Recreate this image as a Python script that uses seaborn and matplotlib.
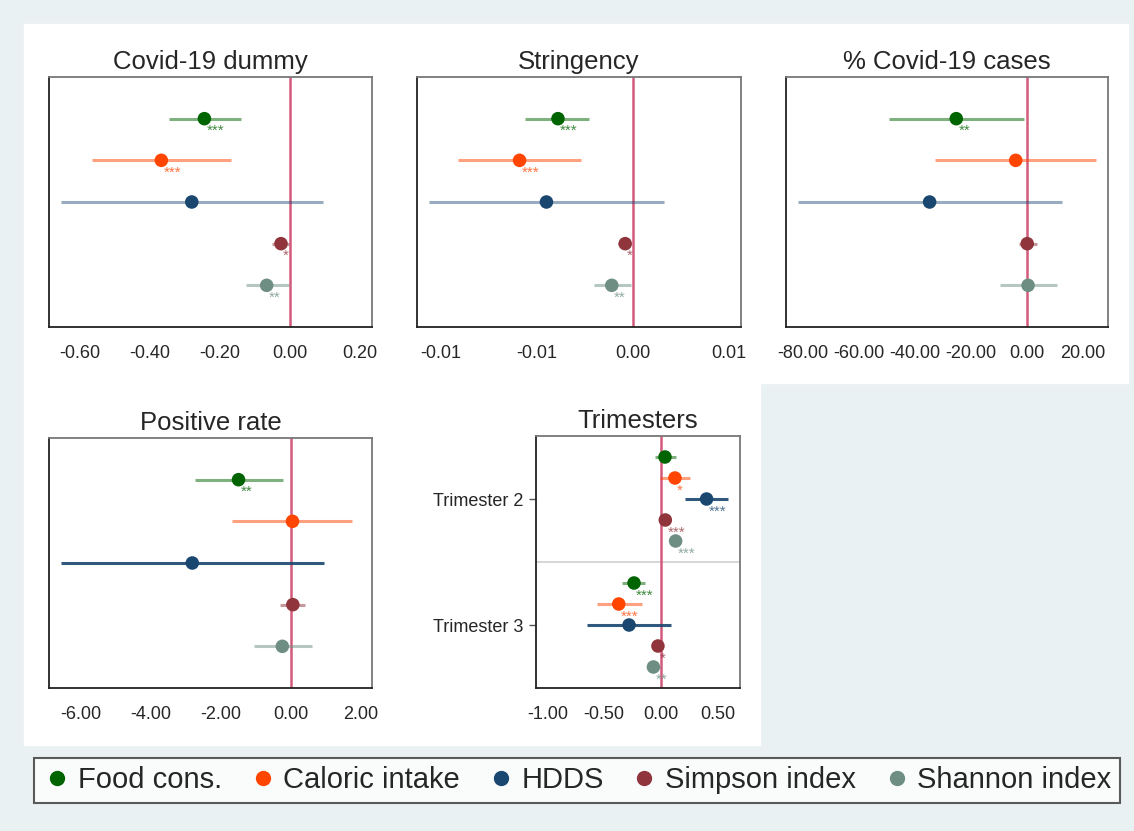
import numpy as np
import pandas as pd
import matplotlib
matplotlib.use("Agg")
import matplotlib.pyplot as plt
import seaborn as sns
from matplotlib.patches import Rectangle
from matplotlib.lines import Line2D

# Resultados (coeficientes, IC 95% y significancia)
outcomes = ["Food cons.", "Caloric intake", "HDDS", "Simpson index", "Shannon index"]
colors = ["#006400", "#ff4500", "#1a476f", "#90353b", "#6e8e84"]

dummy_coef = [-0.245, -0.368, -0.281, -0.026, -0.067]
dummy_lo = [-0.347, -0.566, -0.655, -0.053, -0.126]
dummy_hi = [-0.141, -0.170, 0.093, -0.002, -0.004]
dummy_stars = ["***", "***", "", "*", "**"]

string_coef = [-0.0039, -0.0059, -0.0045, -0.0004, -0.0011]
string_lo = [-0.0056, -0.0091, -0.0106, -0.0008, -0.0020]
string_hi = [-0.0023, -0.0027, 0.0016, -0.0001, -0.0001]
string_stars = ["***", "***", "", "*", "**"]

cases_coef = [-25.2, -4.0, -34.7, 0.1, 0.4]
cases_lo = [-49.3, -32.9, -81.7, -3.0, -9.7]
cases_hi = [-1.0, 24.7, 12.4, 3.6, 10.7]
cases_stars = ["**", "", "", "", ""]

posrate_coef = [-1.50, 0.04, -2.82, 0.05, -0.25]
posrate_lo = [-2.73, -1.68, -6.56, -0.31, -1.07]
posrate_hi = [-0.24, 1.75, 0.95, 0.41, 0.60]
posrate_stars = ["**", "", "", "", ""]

tri2_coef = [0.038, 0.126, 0.405, 0.041, 0.132]
tri2_lo = [-0.053, -0.003, 0.218, 0.020, 0.110]
tri2_hi = [0.138, 0.256, 0.593, 0.060, 0.150]
tri2_stars = ["", "*", "***", "***", "***"]

tri3_coef = [-0.235, -0.370, -0.279, -0.024, -0.064]
tri3_lo = [-0.341, -0.561, -0.652, -0.050, -0.120]
tri3_hi = [-0.141, -0.167, 0.094, -0.002, -0.004]
tri3_stars = ["***", "***", "", "*", "**"]

trimester_labels = ["Trimester 2", "Trimester 3"]

# Estilo
background_color = "#e9f1f3"
sns.set_style("white")
plt.rcParams["font.family"] = ["Liberation Sans", "DejaVu Sans"]

W, H = 1134, 831
fig = plt.figure(figsize=(W / 100, H / 100), dpi=100, facecolor=background_color)

# Zonas blancas de los paneles
fig.add_artist(Rectangle((24 / W, 1 - 383 / H), (1128 - 24) / W, (383 - 24) / H,
                         transform=fig.transFigure, color="white", zorder=0))
fig.add_artist(Rectangle((24 / W, 1 - 745 / H), (760 - 24) / W, (745 - 383) / H,
                         transform=fig.transFigure, color="white", zorder=0))


def px_axes(x0, y0, x1, y1):
    return fig.add_axes([x0 / W, 1 - y1 / H, (x1 - x0) / W, (y1 - y0) / H])


def draw_panel(ax, coef, lo, hi, stars, pos, title, xlim, xticks, xlabels, hdds_alpha=0.45):
    df = pd.DataFrame({"outcome": outcomes * (len(coef) // 5), "coef": coef,
                       "lo": lo, "hi": hi, "pos": pos, "stars": stars})
    ax.axvline(0, color="#d45a7c", lw=1.8, zorder=1)
    for i, row in df.iterrows():
        col = colors[i % 5]
        alpha = hdds_alpha if i % 5 == 2 else 0.5
        ax.hlines(row["pos"], row["lo"], row["hi"], color=col, alpha=alpha, lw=2.2, zorder=2)
        if row["stars"]:
            ax.annotate(row["stars"], (row["coef"], row["pos"]), xytext=(1.5, -9),
                        textcoords="offset points", ha="left", va="center",
                        fontsize=11, color=col, alpha=0.75, zorder=4)
    sns.scatterplot(data=df, x="coef", y="pos", hue="outcome", palette=colors,
                    s=95, edgecolor="none", legend=False, ax=ax, zorder=3)
    ax.set_xlim(xlim)
    ax.set_xticks(xticks)
    ax.set_xticklabels(xlabels)
    ax.set_xlabel("")
    ax.set_ylabel("")
    ax.set_title(title, fontsize=18.5, pad=6)
    ax.tick_params(axis="x", length=5, width=1, color="#555555", labelsize=13, pad=8)
    ax.set_facecolor("white")
    for name, spine in ax.spines.items():
        spine.set_visible(True)
        spine.set_linewidth(1.3)
        spine.set_color("#222222" if name in ("left", "bottom") else "#777777")


pos5 = [1, 2, 3, 4, 5]

ax1 = px_axes(49, 77, 372, 327)
draw_panel(ax1, dummy_coef, dummy_lo, dummy_hi, dummy_stars, pos5, "Covid-19 dummy",
           (-0.689, 0.234), [-0.6, -0.4, -0.2, 0.0, 0.2],
           ["-0.60", "-0.40", "-0.20", "0.00", "0.20"])

ax2 = px_axes(417, 77, 741, 327)
draw_panel(ax2, string_coef, string_lo, string_hi, string_stars, pos5, "Stringency",
           (-0.01124, 0.00563), [-0.01, -0.005, 0.0, 0.005],
           ["-0.01", "-0.01", "0.00", "0.01"])

ax3 = px_axes(786, 77, 1108, 327)
draw_panel(ax3, cases_coef, cases_lo, cases_hi, cases_stars, pos5, "% Covid-19 cases",
           (-85.9, 28.9), [-80, -60, -40, -20, 0, 20],
           ["-80.00", "-60.00", "-40.00", "-20.00", "0.00", "20.00"])

ax4 = px_axes(49, 438, 372, 688)
draw_panel(ax4, posrate_coef, posrate_lo, posrate_hi, posrate_stars, pos5, "Positive rate",
           (-6.91, 2.31), [-6, -4, -2, 0, 2],
           ["-6.00", "-4.00", "-2.00", "0.00", "2.00"], hdds_alpha=0.9)

for ax in (ax1, ax2, ax3, ax4):
    ax.set_ylim(6, 0)
    ax.set_yticks([])

ax5 = px_axes(536, 436, 740, 688)
draw_panel(ax5, tri2_coef + tri3_coef, tri2_lo + tri3_lo, tri2_hi + tri3_hi,
           tri2_stars + tri3_stars, [1, 2, 3, 4, 5, 7, 8, 9, 10, 11], "Trimesters",
           (-1.10, 0.70), [-1.0, -0.5, 0.0, 0.5],
           ["-1.00", "-0.50", "0.00", "0.50"], hdds_alpha=0.9)
ax5.set_ylim(12, 0)
ax5.axhline(6, color="#d0d0d0", lw=1.2, zorder=0)
ax5.set_yticks([3, 9])
ax5.set_yticklabels(trimester_labels)
ax5.tick_params(axis="y", left=True, length=5, width=1, color="#555555",
                labelsize=13, pad=4)

# Leyenda
handles = [Line2D([], [], marker="o", ls="", color=c, ms=10, label=o)
           for o, c in zip(outcomes, colors)]
leg = fig.legend(handles=handles, loc="center", ncol=5, mode="expand",
                 bbox_to_anchor=(34 / W, 1 - 807 / H, (1120 - 34) / W, 53 / H),
                 fontsize=21, frameon=True, fancybox=False, handletextpad=0.2,
                 handlelength=1.0, columnspacing=0.8, borderaxespad=0, borderpad=0.3)
leg.get_frame().set_edgecolor("#333333")
leg.get_frame().set_linewidth(1.5)
leg.get_frame().set_facecolor("white")

fig.savefig("out.png", dpi=100, facecolor=background_color)
plt.close(fig)
